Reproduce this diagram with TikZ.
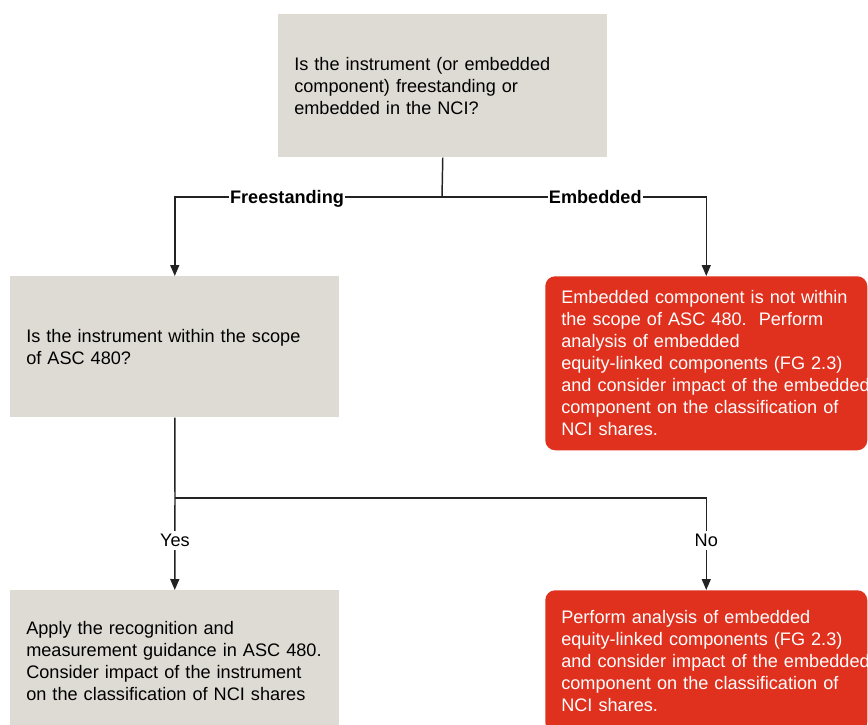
\documentclass[tikz,border=0pt]{standalone}
\usepackage{fontspec}
\setmainfont{Liberation Sans}
\usetikzlibrary{arrows.meta}
\definecolor{boxgray}{RGB}{222,219,212}
\definecolor{pwcred}{RGB}{224,48,30}
\definecolor{linegray}{RGB}{35,35,35}
\newcommand{\chartfont}{\fontsize{13.6pt}{16.5pt}\selectfont\hyphenpenalty=10000}
\tikzset{
  graybox/.style={fill=boxgray, anchor=north west, minimum width=246.75pt, text width=222.75pt, inner xsep=12pt, align=left, font=\chartfont},
  redbox/.style={fill=pwcred, rounded corners=7.5pt, anchor=north west, minimum width=241.5pt, text width=217.5pt, inner xsep=12pt, align=left, text=white, font=\chartfont},
  flow/.style={draw=linegray, line width=1.1pt},
  flowarrow/.style={flow, -{Triangle[width=6.75pt,length=8.25pt]}},
  cutlabel/.style={fill=white, inner xsep=1pt, inner ysep=2pt, text height=9.8pt, text depth=0pt, text=black, font=\chartfont}
}
\begin{document}
\begin{tikzpicture}[x=0.75pt,y=0.75pt,yscale=-1,xscale=1]
\clip (0,0) rectangle (868,725);
\fill[white] (0,0) rectangle (868,725);

%Question boxes
\node[graybox, minimum height=107.25pt] (form) at (278,14) {Is the instrument (or embedded\\component) freestanding or\\embedded in the NCI?};
\node[graybox, minimum height=105.75pt] (scope) at (10,276) {Is the instrument within the scope\\of ASC 480?};
\node[redbox, minimum height=130.5pt] (embedded) at (545,276) {Embedded component is not within\\the scope of ASC 480.\ \ Perform\\analysis of embedded\\equity-linked components (FG 2.3)\\\mbox{and consider impact of the embedded}\\component on the classification of\\NCI shares.};

%Outcome boxes
\node[graybox, minimum height=106.5pt] (apply) at (10,590) {Apply the recognition and\\measurement guidance in ASC 480.\\Consider impact of the instrument\\on the classification of NCI shares};
\node[redbox, minimum height=106.5pt] (analysis) at (545,590) {Perform analysis of embedded\\equity-linked components (FG 2.3)\\\mbox{and consider impact of the embedded}\\component on the classification of\\NCI shares.};

%Connectors
\coordinate (split) at (442,197);
\coordinate (branch) at (175,498);
\draw[flow] (form.south) -- (split);
\draw[flowarrow] (split) -| node[cutlabel, pos=0.29] {\bfseries Freestanding} (scope.north);
\draw[flowarrow] (split) -| node[cutlabel, pos=0.29] {\bfseries Embedded} (embedded.north);
\draw[flow] (scope.south) -- (branch);
\draw[flowarrow] (branch) -- node[cutlabel, pos=0.46] {Yes} (apply.north);
\draw[flowarrow] (branch) -| node[cutlabel, pos=0.73] {No} (analysis.north);

\end{tikzpicture}
\end{document}
